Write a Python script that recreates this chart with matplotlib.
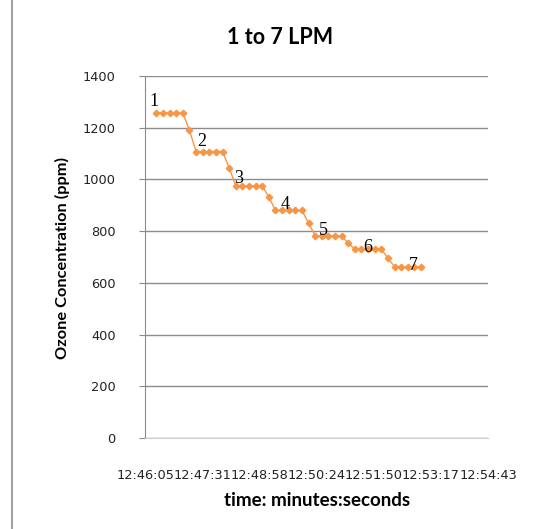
import matplotlib.pyplot as plt
from matplotlib.lines import Line2D

# readings every ~10 s (clock time) and ozone level (ppm)
times = ["12:46:22", "12:46:32", "12:46:42", "12:46:52", "12:47:02",
         "12:47:12",
         "12:47:22", "12:47:32", "12:47:42", "12:47:52", "12:48:02",
         "12:48:12",
         "12:48:22", "12:48:32", "12:48:42", "12:48:52", "12:49:02",
         "12:49:12",
         "12:49:22", "12:49:32", "12:49:42", "12:49:52", "12:50:02",
         "12:50:12",
         "12:50:22", "12:50:32", "12:50:42", "12:50:52", "12:51:02",
         "12:51:12",
         "12:51:22", "12:51:32", "12:51:42", "12:51:52", "12:52:02",
         "12:52:12",
         "12:52:22", "12:52:32", "12:52:42", "12:52:52", "12:53:02"]
ozone = [1257, 1257, 1257, 1257, 1257,
         1190,
         1108, 1108, 1108, 1108, 1108,
         1045,
         975, 975, 975, 975, 975,
         932,
         880, 880, 880, 880, 880,
         831,
         782, 782, 782, 782, 782,
         753,
         731, 731, 731, 731, 731,
         695,
         662, 662, 662, 662, 662]

flow_labels = ["1", "2", "3", "4", "5", "6", "7"]
label_at = [0, 6, 12, 18, 24, 30, 38]   # index of the point each label sits on

xtick_labels = ["12:46:05", "12:47:31", "12:48:58", "12:50:24",
                "12:51:50", "12:53:17", "12:54:43"]


def to_sec(s):
    h, m, sec = s.split(":")
    return int(h) * 3600 + int(m) * 60 + int(sec)


t0 = 0.532 * 86400          # excel axis min (days)
major = 0.001 * 86400       # excel major unit
x = [to_sec(t) - t0 for t in times]

fig = plt.figure(figsize=(5.37, 5.29), dpi=100)
ax = fig.add_axes([145/537, 1-438/529, 343/537, 362/529])

grid_c = "#8c8c8c"
orange = "#F79646"

ax.plot(x, ozone, color=orange, lw=1.0, marker="D", ms=3.3,
        mec=orange, mfc=orange, zorder=3)

label_off = [(-2, 8), (4, 7), (2, 5), (7, 4), (6, 4), (9, 1), (4, 1)]
for lab, i, off in zip(flow_labels, label_at, label_off):
    ax.annotate(lab, (x[i], ozone[i]), xytext=off, textcoords="offset points",
                ha="center", va="center", fontsize=13,
                family="Liberation Serif", color="black", zorder=4)

ax.set_xlim(0, 6 * major)
ax.set_ylim(0, 1400)
ax.set_yticks(range(0, 1401, 200))
ax.set_xticks([k * major for k in range(7)])
ax.set_xticklabels(xtick_labels)

ax.grid(axis="y", color=grid_c, lw=1)
ax.set_axisbelow(True)
for s in ["top", "right"]:
    ax.spines[s].set_visible(False)
ax.spines["left"].set_color(grid_c)
ax.spines["bottom"].set_color("#d0d0d0")
ax.tick_params(axis="y", length=4, color=grid_c, pad=17, labelsize=9.3,
               labelcolor="#222222")
ax.tick_params(axis="x", length=0, pad=22, labelsize=9.3,
               labelcolor="#222222")
for lbl in ax.get_xticklabels() + ax.get_yticklabels():
    lbl.set_family("DejaVu Sans")

fig.text(280/537, 1-37/529, "1 to 7 LPM", ha="center", va="center",
         fontsize=15.5, fontweight="bold", family="Lato")
fig.text(317/537, 1-500/529, "time: minutes:seconds", ha="center",
         va="center", fontsize=13.5, fontweight="bold", family="Lato")
fig.text(62/537, 1-258/529, "Ozone Concentration (ppm)", ha="center",
         va="center", rotation=90, fontsize=11.8, fontweight="bold",
         family="Lato")

fig.add_artist(Line2D([12/537, 12/537], [0, 1], color="#909090", lw=1.2,
                      transform=fig.transFigure))

fig.savefig("out.png", dpi=100)
